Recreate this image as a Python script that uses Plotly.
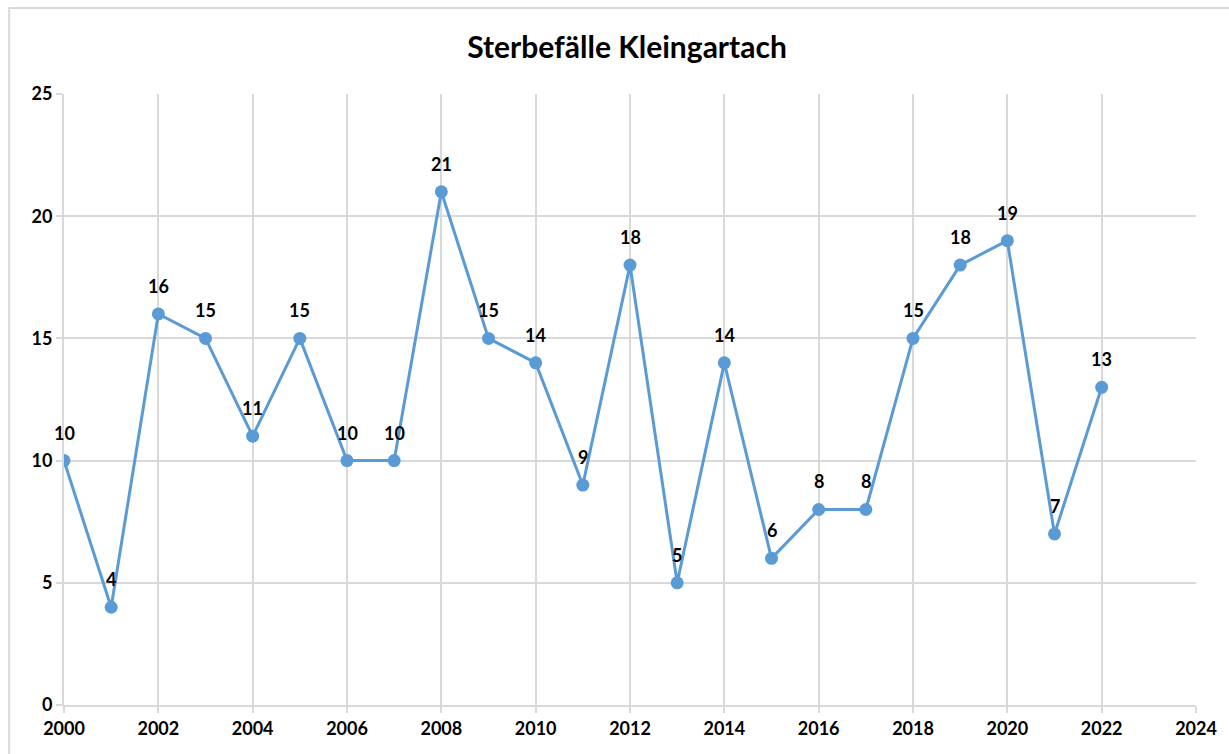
import plotly.graph_objects as go

years = list(range(2000, 2023))
deaths = [10, 4, 16, 15, 11, 15, 10, 10, 21, 15, 14, 9, 18, 5, 14, 6, 8, 8, 15, 18, 19, 7, 13]
title_text = "Sterbefälle Kleingartach"

FONT = "Lato, 'Open Sans', sans-serif"
blue = "#5B9BD5"
grid = "#D9D9D9"

W, H = 1229, 754
L, R, T, B = 64, 29, 94, 49
PW, PH = W - L - R, H - T - B

fig = go.Figure()
fig.add_trace(go.Scatter(
    x=years, y=deaths, mode="lines+markers",
    line=dict(color=blue, width=3),
    marker=dict(color=blue, size=13),
    hoverinfo="x+y", showlegend=False,
))

for x, y in zip(years, deaths):
    fig.add_annotation(x=x, y=y, text=f"<b>{y}</b>", showarrow=False,
                       yshift=28, font=dict(family=FONT, size=18, color="#000000"))

axis_common = dict(
    showgrid=True, gridcolor=grid, gridwidth=2,
    showline=True, linecolor=grid, linewidth=2,
    ticks="outside", ticklen=6, tickcolor=grid, tickwidth=2,
    tickfont=dict(family=FONT, size=18, color="#000000"),
    tickprefix="<b>", ticksuffix="</b>", zeroline=False,
)

fig.update_layout(
    width=W, height=H,
    margin=dict(l=L, r=R, t=T, b=B),
    paper_bgcolor="white", plot_bgcolor="white",
    title=dict(text=f"<b>{title_text}</b>", x=627 / W, xanchor="center",
               y=1 - 47 / H, yanchor="middle",
               font=dict(family=FONT, size=30, color="#000000")),
    font=dict(family=FONT, color="#000000"),
    xaxis=dict(range=[2000, 2024], tickmode="linear", tick0=2000, dtick=2, **axis_common),
    yaxis=dict(range=[0, 25], tickmode="linear", tick0=0, dtick=5, **axis_common),
)

# outer chart border (left and top edges visible, right/bottom beyond the frame)
fig.add_shape(type="rect", xref="paper", yref="paper",
              x0=(9 - L) / PW, x1=(W + 20 - L) / PW,
              y0=(T + PH - (H + 20)) / PH, y1=(T + PH - 8) / PH,
              line=dict(color="#D9D9D9", width=2), layer="below")

fig.write_html(
    "out.html",
    config={"displayModeBar": False},
    post_script="document.body.style.margin='0';document.documentElement.style.overflow='hidden';document.body.style.overflow='hidden';",
)
